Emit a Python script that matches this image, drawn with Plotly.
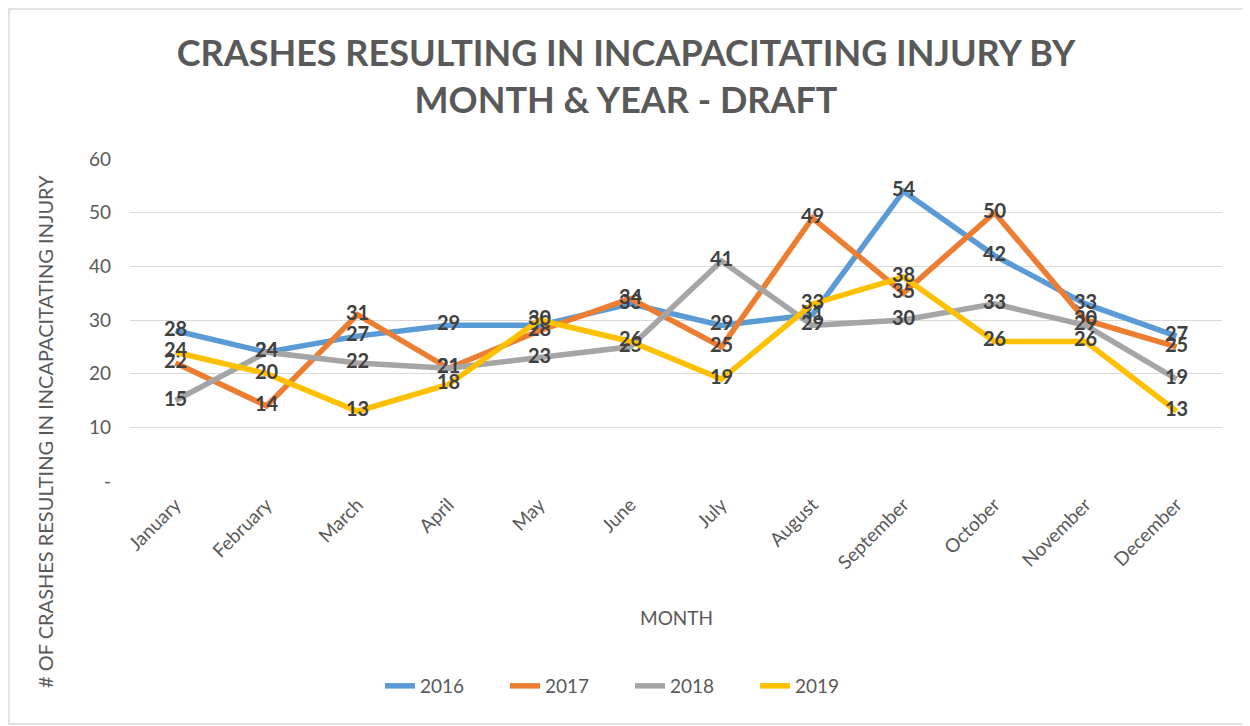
import plotly.graph_objects as go

months = ["January", "February", "March", "April", "May", "June", "July",
          "August", "September", "October", "November", "December"]
y2016 = [28, 24, 27, 29, 29, 33, 29, 31, 54, 42, 33, 27]
y2017 = [22, 14, 31, 21, 28, 34, 25, 49, 35, 50, 30, 25]
y2018 = [15, 24, 22, 21, 23, 25, 41, 29, 30, 33, 29, 19]
y2019 = [24, 20, 13, 18, 30, 26, 19, 33, 38, 26, 26, 13]
series = [("2016", y2016, "#5B9BD5"), ("2017", y2017, "#ED7D31"),
          ("2018", y2018, "#A5A5A5"), ("2019", y2019, "#FFC000")]
y_tickvals = [0, 10, 20, 30, 40, 50, 60]
y_ticktext = ["-", "10", "20", "30", "40", "50", "60"]

FONT = "Lato"
OFF = 8  # page body margin
W, H = 1250 - OFF, 726 - OFF
L, R, T, B = 130 - OFF, 28, 159 - OFF, 245
pw = W - L - R
ph = H - T - B

def px_y(py):
    return (481 - py) / ph

def px_x(px):
    return (px - 130) / pw

fig = go.Figure()
for name, vals, color in series:
    fig.add_trace(go.Scatter(
        x=months, y=vals, name=name, mode="lines+text",
        line=dict(color=color, width=5.5),
        text=[str(v) for v in vals], textposition="middle center",
        textfont=dict(family=FONT, size=20, color="#404040", weight="bold"),
    ))

fig.update_layout(
    width=W, height=H,
    margin=dict(l=L, r=R, t=T, b=B),
    paper_bgcolor="white", plot_bgcolor="white",
    font=dict(family=FONT, color="#595959", size=18),
    title=dict(text="<b>CRASHES RESULTING IN INCAPACITATING INJURY BY<br>MONTH &amp; YEAR - DRAFT</b>",
               x=(626 - OFF) / W, xanchor="center", y=1 - 58 / H, yanchor="top",
               font=dict(family=FONT, size=36, color="#595959")),
    showlegend=True,
    legend=dict(orientation="h", x=px_x(630), xanchor="center", y=px_y(686), yanchor="middle",
                font=dict(size=19, color="#595959"), entrywidth=80, entrywidthmode="pixels"),
    xaxis=dict(type="category", range=[-0.5, 11.5], showgrid=False, showline=False,
               ticks="", tickangle=-45, tickfont=dict(size=19, color="#595959"),
               ticklabelstandoff=8),
    yaxis=dict(range=[0, 60], tickvals=y_tickvals, ticktext=y_ticktext,
               showgrid=True, gridcolor="#D9D9D9", gridwidth=1, zeroline=False,
               showline=False, ticks="", tickfont=dict(size=19, color="#595959"),
               ticklabelstandoff=18),
)
fig.add_annotation(text="MONTH", xref="paper", yref="paper", x=px_x(676), y=px_y(617),
                   showarrow=False, xanchor="center", yanchor="middle",
                   font=dict(size=19, color="#595959", family=FONT))
fig.add_annotation(text="# OF CRASHES RESULTING IN INCAPACITATING INJURY",
                   xref="paper", yref="paper", x=px_x(45), y=px_y(432),
                   textangle=-90, showarrow=False, xanchor="center", yanchor="middle",
                   font=dict(size=20, color="#595959", family=FONT))
fig.add_shape(type="rect", xref="paper", yref="paper",
              x0=px_x(OFF + 1), x1=px_x(1248), y0=px_y(724), y1=px_y(OFF + 1),
              line=dict(color="#D9D9D9", width=1.5), layer="below")
fig.write_html("out.html")
